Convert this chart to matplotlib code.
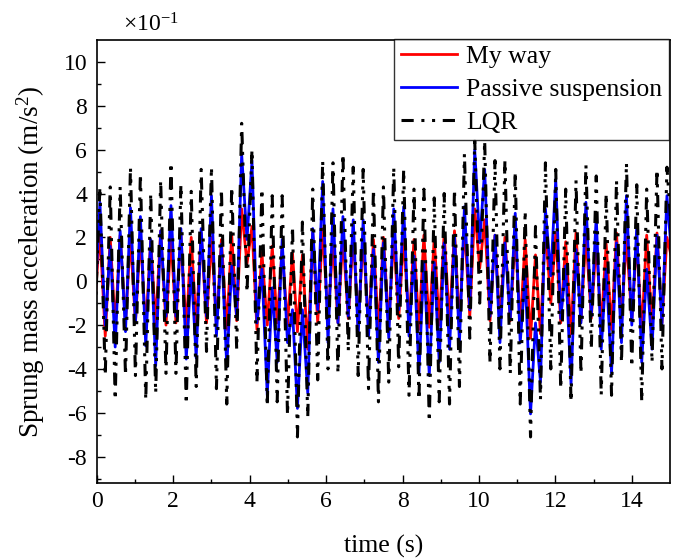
import numpy as np
import matplotlib
matplotlib.use('Agg')
import matplotlib.pyplot as plt

plt.rcParams['font.family'] = ['Liberation Serif', 'DejaVu Serif']
plt.rcParams['mathtext.fontset'] = 'custom'
plt.rcParams['mathtext.rm'] = 'Liberation Serif'
plt.rcParams['mathtext.it'] = 'Liberation Serif:italic'
plt.rcParams['axes.unicode_minus'] = False

# times (s) of the local maxima / minima
peak_t = [0.08, 0.35, 0.61, 0.88, 1.14, 1.41, 1.67, 1.94, 2.20, 2.47,
          2.73, 3.00, 3.26, 3.53, 3.79, 4.06, 4.32, 4.59, 4.85, 5.12,
          5.38, 5.65, 5.91, 6.18, 6.44, 6.71, 6.97, 7.24, 7.50, 7.77,
          8.03, 8.30, 8.56, 8.83, 9.09, 9.36, 9.62, 9.89, 10.15, 10.42,
          10.68, 10.95, 11.21, 11.48, 11.74, 12.01, 12.27, 12.54, 12.80, 13.07,
          13.33, 13.60, 13.86, 14.13, 14.39, 14.66, 14.92]
trough_t = [-0.05, 0.22, 0.48, 0.75, 1.01, 1.28, 1.54, 1.81, 2.07, 2.34,
            2.60, 2.87, 3.13, 3.40, 3.66, 3.93, 4.19, 4.46, 4.72, 4.99,
            5.25, 5.52, 5.78, 6.05, 6.31, 6.58, 6.84, 7.11, 7.37, 7.64,
            7.90, 8.17, 8.43, 8.70, 8.96, 9.23, 9.49, 9.76, 10.02, 10.29,
            10.55, 10.82, 11.08, 11.35, 11.61, 11.88, 12.14, 12.41, 12.67, 12.94,
            13.20, 13.47, 13.73, 14.00, 14.26, 14.53, 14.79, 15.05]

# My way (x10^-1 m/s^2)
myway_peaks = [2.3, 2.0, 2.1, 2.0, 2.1, 1.9, 2.3, 2.0, 2.1, 2.0,
               2.2, 2.0, 1.9, 2.1, 3.3, 2.5, 1.3, 1.6, 1.5, 1.3,
               1.2, 2.2, 2.4, 1.8, 2.0, 2.1, 2.0, 1.9, 2.0, 2.1,
               2.0, 1.9, 2.1, 2.0, 2.2, 2.3, 2.6, 3.3, 2.8, 2.1,
               2.0, 2.2, 1.9, 1.2, 2.5, 2.2, 1.8, 2.2, 2.1, 1.8,
               1.7, 2.2, 2.0, 1.9, 2.1, 2.2, 2.0]
myway_troughs = [-1.0, -2.5, -2.1, -1.9, -1.9, -2.2, -2.0, -2.0, -1.9, -2.2,
                 -2.1, -1.9, -2.0, -2.2, -1.8, 0.8, -2.2, -2.0, -1.9, -2.0,
                 -2.3, -3.1, -1.9, -1.8, -1.9, -1.7, -2.0, -2.1, -2.3, -2.0,
                 -1.7, -2.0, -2.2, -2.1, -2.0, -1.9, -2.0, -1.6, 0.6, -1.8,
                 -2.0, -1.8, -2.1, -2.6, -2.4, -1.0, -1.9, -2.4, -1.8, -1.7,
                 -2.1, -2.2, -1.9, -1.8, -2.3, -2.1, -1.9, 1.0]

# Passive suspension
passive_peaks = [3.6, 1.6, 2.3, 3.35, 2.95, 1.9, 2.3, 3.45, 2.4, 0.6,
                 2.4, 3.9, 1.7, 0.7, 5.8, 5.5, 0.55, -0.3, 1.9, -1.3,
                 -1.3, 2.4, 4.55, 3.3, 2.95, 2.8, 2.8, 1.45, 1.75, 3.3,
                 3.4, 1.15, 0.85, 0.85, 1.75, 2.1, 3.4, 6.0, 5.1, 2.1,
                 1.75, 3.1, 0.25, -1.9, 3.3, 4.65, 0.7, 1.45, 3.6, 2.95,
                 0.55, 1.75, 3.9, 2.5, 0.55, 2.1, 3.9]
passive_troughs = [-1.0, -2.0, -3.0, -2.3, -1.9, -2.95, -3.85, -1.6, -1.6, -3.55,
                   -3.5, -1.6, -2.5, -3.9, -1.6, 1.9, -1.9, -5.2, -3.7, -2.8,
                   -5.8, -5.1, -1.3, -2.8, -1.9, -1.6, -2.5, -2.5, -3.7, -2.6,
                   -1.3, -2.5, -4.2, -4.3, -3.7, -3.1, -2.8, -1.3, 1.75, -1.6,
                   -2.8, -1.7, -2.8, -6.05, -4.6, 0.25, -1.7, -4.7, -1.9, -1.6,
                   -3.1, -4.2, -2.8, -2.0, -3.7, -3.1, -2.0, 1.0]

# LQR
lqr_peaks = [4.3, 4.3, 4.3, 5.2, 4.9, 4.0, 4.6, 5.4, 4.4, 4.1,
             5.1, 5.2, 4.2, 4.3, 7.2, 6.0, 4.2, 3.9, 3.9, 2.5,
             2.7, 4.2, 5.5, 5.4, 5.8, 5.2, 5.1, 4.2, 4.3, 5.2,
             5.1, 4.2, 4.2, 3.8, 4.0, 4.2, 5.8, 6.4, 6.4, 5.5,
             5.5, 5.0, 3.2, 2.5, 5.4, 5.1, 4.2, 4.6, 5.3, 4.8,
             4.0, 4.6, 5.4, 4.4, 4.2, 5.1, 5.2]
lqr_troughs = [-2.0, -4.3, -5.4, -4.3, -4.3, -5.4, -5.1, -4.2, -4.2, -5.6,
               -4.8, -3.2, -4.9, -5.6, -3.1, -0.5, -4.6, -5.7, -5.5, -6.1,
               -7.1, -6.2, -4.5, -4.0, -4.2, -3.2, -4.3, -4.9, -5.5, -4.6,
               -3.9, -5.2, -5.4, -6.4, -5.5, -5.6, -4.8, -2.6, -1.0, -3.7,
               -4.0, -4.2, -5.6, -7.1, -5.4, -4.0, -4.9, -5.5, -4.2, -3.1,
               -5.2, -5.2, -3.7, -3.9, -5.5, -3.7, -4.0, 2.0]


def merge(troughs, peaks):
    out = np.empty(len(troughs) + len(peaks))
    out[0::2] = troughs
    out[1::2] = peaks
    return out


t = merge(trough_t, peak_t)
y_myway = merge(myway_troughs, myway_peaks)
y_passive = merge(passive_troughs, passive_peaks)
y_lqr = merge(lqr_troughs, lqr_peaks)

fig = plt.figure(figsize=(6.82, 5.6), dpi=100)
ax = fig.add_axes([0.142, 0.1375, 0.8404, 0.7911])

ax.plot(t, y_myway, color='#ff0000', lw=2.0, label='My way')
ax.plot(t, y_passive, color='#0000ff', lw=2.0, label='Passive suspension')
ax.plot(t, y_lqr, color='black', lw=2.2, dashes=(4, 2.5, 1, 2.5, 1, 2.5), label='LQR')

ax.set_xlim(0, 15)
ax.set_ylim(-9.2, 11)
ax.set_xticks(np.arange(0, 15, 2))
ax.set_xticks(np.arange(1, 15, 2), minor=True)
ax.set_yticks(np.arange(-8, 11, 2))
ax.set_yticks(np.arange(-9, 11, 2), minor=True)
ax.tick_params(which='both', direction='in', labelsize=17, width=1.0)
ax.tick_params(which='major', length=6)
ax.tick_params(which='minor', length=3)
ax.tick_params(axis='x', pad=6)
ax.tick_params(axis='y', pad=7)
for s in ax.spines.values():
    s.set_linewidth(1.2)

ax.set_xlabel('time (s)', fontsize=18.5, labelpad=16)
ax.set_ylabel('Sprung mass acceleration (m/s$^2$)', fontsize=19.5, labelpad=12)
ax.text(0.045, 1.008, r'$\times$10$^{-1}$', transform=ax.transAxes,
        fontsize=17, ha='left', va='bottom')

leg = ax.legend(loc='upper right', fontsize=18.5, handlelength=2.2, frameon=True,
                fancybox=False, borderaxespad=0.05, borderpad=0.25,
                labelspacing=0.38, handletextpad=0.35,
                bbox_to_anchor=(1.0, 1.006))
leg.get_frame().set_edgecolor('black')
leg.get_frame().set_linewidth(1.0)

fig.savefig('out.png', dpi=100)
